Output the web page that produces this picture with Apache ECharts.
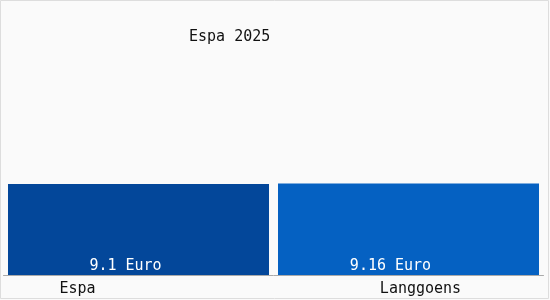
<!DOCTYPE html>
<html><head><meta charset="utf-8">
<script src="https://cdn.jsdelivr.net/npm/echarts@6/dist/echarts.min.js"></script>
<style>html,body{margin:0;padding:0;background:#fafafa}#c{width:550px;height:300px}</style>
</head><body><div id="c"></div>
<script>
const categories = ["Espa", "Langgoens"];
const values = [9.1, 9.16];
const valueLabels = ["9.1 Euro", "9.16 Euro"];
const titleText = "Espa 2025";
const barColors = ["#03479a", "#0561c2"];

const font = "'DejaVu Sans Mono', monospace";
const chart = echarts.init(document.getElementById('c'), null, {renderer: 'canvas'});
chart.setOption({
  backgroundColor: '#fafafa',
  animation: false,
  title: {text: titleText, left: 189, top: 30, padding: 0, textStyle: {fontFamily: font, fontSize: 15, fontWeight: 'normal', color: '#111'}},
  grid: {left: 3.5, right: 6.5, top: 75, bottom: 25},
  xAxis: {
    type: 'category', data: categories,
    axisLine: {show: true, lineStyle: {color: '#aaa', width: 1}},
    axisTick: {show: false},
    axisLabel: {
      margin: 7,
      formatter: (v, i) => i === 0 ? '{a|' + v + '}' : '{b|' + v + '}',
      rich: {
        a: {fontFamily: font, fontSize: 15, color: '#111', padding: [0, 122, 0, 0]},
        b: {fontFamily: font, fontSize: 15, color: '#111', padding: [0, 0, 0, 24]}
      }
    }
  },
  yAxis: {type: 'value', min: 0, max: 20, show: false, splitLine: {show: false}},
  series: [{
    type: 'bar', barWidth: 261,
    data: values.map((v, i) => ({
      value: v,
      itemStyle: {color: barColors[i]},
      label: {offset: [i === 0 ? -13 : -18, 0]}
    })),
    label: {
      show: true, position: 'insideBottom', distance: 1,
      formatter: p => valueLabels[p.dataIndex],
      fontFamily: font, fontSize: 15, color: '#fff'
    }
  }],
  graphic: [{type: 'rect', shape: {x: 0.5, y: 0.5, width: 548, height: 298}, style: {fill: null, stroke: '#ddd', lineWidth: 1}, silent: true}]
});
</script></body></html>
